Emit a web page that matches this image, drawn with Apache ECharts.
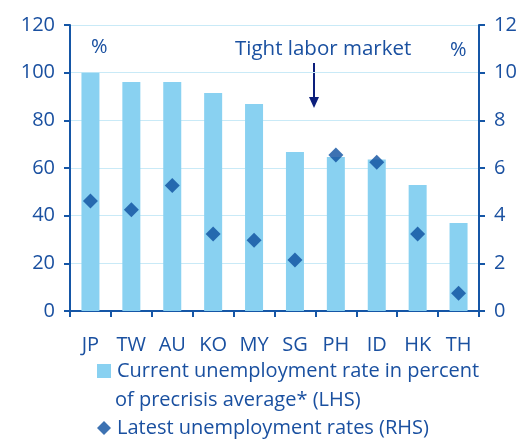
<!DOCTYPE html>
<html>
<head>
<meta charset="utf-8">
<script src="https://cdn.jsdelivr.net/npm/echarts@6/dist/echarts.min.js"></script>
<style>
  html, body { margin: 0; padding: 0; background: #fff; }
  #chart { width: 532px; height: 439px; }
</style>
</head>
<body>
<div id="chart"></div>
<script>
var categories = ['JP', 'TW', 'AU', 'KO', 'MY', 'SG', 'PH', 'ID', 'HK', 'TH'];
// current unemployment rate, percent of precrisis average (LHS)
var currentVsPrecrisis = [100, 96.1, 96.1, 91.5, 86.9, 66.7, 64.6, 63.6, 52.9, 36.9];
// latest unemployment rates, % (RHS)
var latestRates = [4.62, 4.25, 5.27, 3.23, 2.97, 2.14, 6.55, 6.24, 3.23, 0.74];

var leftTicks = { min: 0, max: 120, interval: 20 };
var rightTicks = { min: 0, max: 12, interval: 2 };

var textColor = '#1a50a0';
var axisColor = '#1556a6';
var gridColor = '#c9eaf7';
var fontName = 'Open Sans';

var myChart = echarts.init(document.getElementById('chart'));

function axisStyle(pos, ticks) {
    return {
        type: 'value',
        position: pos,
        min: ticks.min,
        max: ticks.max,
        interval: ticks.interval,
        axisLine: { show: true, lineStyle: { color: axisColor, width: 2 } },
        axisTick: { show: true, length: 6, lineStyle: { color: axisColor, width: 2 } },
        axisLabel: { color: textColor, fontFamily: fontName, fontSize: 20, margin: 15 },
        splitLine: { show: pos == 'left', lineStyle: { color: gridColor, width: 1 } }
    };
}

var option = {
    animation: false,
    grid: { left: 70, right: 53, top: 25, bottom: 128, containLabel: false },
    legend: [{
        left: 92,
        top: 356,
        itemWidth: 14,
        itemHeight: 14,
        textStyle: { color: textColor, fontFamily: fontName, fontSize: 20, padding: [0, 0, 0, 1] },
        data: [{ name: 'Current unemployment rate in percent', icon: 'rect' }]
    }, {
        left: 92,
        top: 413,
        itemWidth: 14,
        itemHeight: 14,
        textStyle: { color: textColor, fontFamily: fontName, fontSize: 20, padding: [0, 0, 0, 1] },
        data: [{ name: 'Latest unemployment rates (RHS)', icon: 'diamond' }]
    }],
    xAxis: [{
        type: 'category',
        data: categories,
        axisLine: { lineStyle: { color: axisColor, width: 2 } },
        axisTick: { show: true, length: 6, lineStyle: { color: axisColor, width: 2 } },
        axisLabel: { color: textColor, fontFamily: fontName, fontSize: 20, margin: 24 }
    }],
    yAxis: [axisStyle('left', leftTicks), axisStyle('right', rightTicks)],
    graphic: [{
        type: 'text',
        left: 115,
        top: 390,
        style: { text: 'of precrisis average* (LHS)', fill: textColor, font: '20px "Open Sans"' }
    }, {
        type: 'text',
        left: 91,
        top: 37,
        style: { text: '%', fill: textColor, font: '20px "Open Sans"' }
    }, {
        type: 'text',
        left: 450,
        top: 40,
        style: { text: '%', fill: textColor, font: '20px "Open Sans"' }
    }, {
        type: 'text',
        left: 235,
        top: 39,
        style: { text: 'Tight labor market', fill: textColor, font: '20.5px "Open Sans"' }
    }, {
        type: 'line',
        shape: { x1: 314, y1: 63, x2: 314, y2: 100 },
        style: { stroke: '#0c1f7c', lineWidth: 2 }
    }, {
        type: 'polygon',
        shape: { points: [[309, 97], [319, 97], [314, 108]] },
        style: { fill: '#0c1f7c' }
    }],
    series: [{
        name: 'Current unemployment rate in percent',
        type: 'bar',
        yAxisIndex: 0,
        barWidth: 18,
        itemStyle: { color: '#89d1f1' },
        data: currentVsPrecrisis
    }, {
        name: 'Latest unemployment rates (RHS)',
        type: 'scatter',
        yAxisIndex: 1,
        symbol: 'diamond',
        symbolSize: [15, 15],
        itemStyle: { color: '#0d4f9f' },
        data: latestRates
    }]
};

myChart.setOption(option);
</script>
</body>
</html>
